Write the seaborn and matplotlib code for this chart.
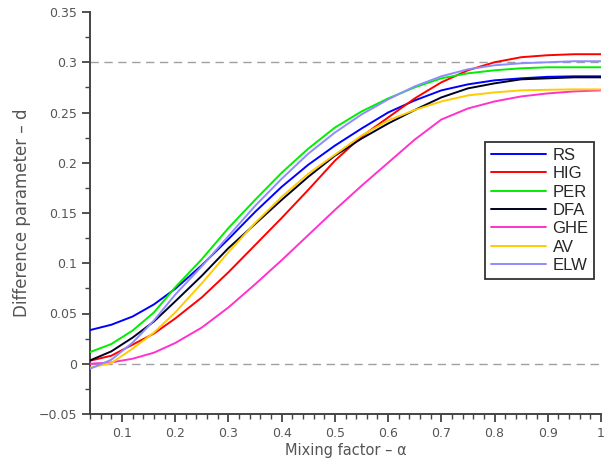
import numpy as np
import pandas as pd
import matplotlib
matplotlib.use("Agg")
import matplotlib.pyplot as plt
from matplotlib.ticker import MultipleLocator, FuncFormatter
import seaborn as sns

alpha = [0.04, 0.08, 0.12, 0.16, 0.2, 0.25, 0.3, 0.35, 0.4, 0.45, 0.5, 0.55,
         0.6, 0.65, 0.7, 0.75, 0.8, 0.85, 0.9, 0.95, 1.0]
RS  = [.0335, .0388, .047, .059, .0745, .098, .124, .151, .176, .198, .217, .234,
       .250, .262, .272, .278, .282, .284, .2855, .286, .286]
HIG = [.003, .008, .019, .030, .045, .066, .091, .118, .145, .173, .202, .226,
       .245, .264, .280, .292, .300, .305, .307, .308, .308]
PER = [.0116, .0196, .033, .051, .076, .104, .135, .163, .190, .214, .235, .251,
       .264, .275, .284, .289, .292, .294, .295, .295, .295]
DFA = [.0033, .0123, .026, .042, .062, .0875, .115, .139, .163, .186, .207, .224,
       .239, .2525, .265, .274, .279, .283, .284, .285, .285]
GHE = [0.0, .0013, .005, .011, .0206, .036, .056, .079, .103, .128, .153, .177,
       .200, .223, .243, .254, .261, .266, .269, .271, .272]
AV  = [-.004, .0007, .015, .031, .051, .080, .111, .140, .166, .189, .208, .227,
       .242, .2525, .261, .267, .270, .272, .2726, .273, .273]
ELW = [-.005, .004, .021, .043, .0687, .097, .127, .157, .184, .209, .230, .248,
       .263, .276, .286, .293, .297, .299, .300, .301, .301]

methods = ["RS", "HIG", "PER", "DFA", "GHE", "AV", "ELW"]
series = [RS, HIG, PER, DFA, GHE, AV, ELW]
colors = ["#0000ff", "#ff0000", "#00ee00", "#000022", "#ff33cc", "#ffcc00", "#8c8cff"]

df = pd.DataFrame({
    "alpha": np.tile(alpha, len(methods)),
    "d": np.concatenate(series),
    "method": np.repeat(methods, len(alpha)),
})

sns.set_style("ticks")
plt.rcParams["font.family"] = ["DejaVu Sans"]

fig = plt.figure(figsize=(6.12, 4.74), dpi=100)
ax = fig.add_axes([90/612, 1-414/474, (601-90)/612, (414-12)/474])

ax.axhline(0.3, color="#a0a0a0", lw=1.0, dashes=(6, 4), zorder=1)
ax.axhline(0.0, color="#a0a0a0", lw=1.0, dashes=(6, 4), zorder=1)

sns.lineplot(data=df, x="alpha", y="d", hue="method", hue_order=methods,
             palette=dict(zip(methods, colors)), lw=1.4, ax=ax, zorder=3)

ax.set_xlim(0.04, 1.0)
ax.set_ylim(-0.05, 0.35)
ax.xaxis.set_major_locator(MultipleLocator(0.1))
ax.xaxis.set_minor_locator(MultipleLocator(0.02))
ax.yaxis.set_major_locator(MultipleLocator(0.05))
ax.yaxis.set_minor_locator(MultipleLocator(0.025))

def fmt(v, pos):
    s = "%g" % round(v, 3)
    return s.replace("-", "\u2212")
ax.xaxis.set_major_formatter(FuncFormatter(fmt))
ax.yaxis.set_major_formatter(FuncFormatter(fmt))

for s in ["top", "right"]:
    ax.spines[s].set_visible(False)
for s in ["left", "bottom"]:
    ax.spines[s].set_color("#444444")
    ax.spines[s].set_linewidth(1.4)
ax.tick_params(which="major", direction="out", length=6, width=1.3,
               color="#444444", labelcolor="#555555", labelsize=9)
ax.tick_params(which="minor", direction="out", length=3.5, width=1.0, color="#444444")

ax.set_xlabel("Mixing factor \u2013 \u03b1", fontsize=10.5, color="#555555", labelpad=2)
ax.set_ylabel("Difference parameter \u2013 d", fontsize=12, color="#555555", labelpad=5)

leg = ax.legend(loc="upper left", bbox_to_anchor=((485-90)/511, (414-142)/402),
                borderaxespad=0, frameon=True, fancybox=False,
                prop={"family": "Liberation Sans", "size": 12},
                handlelength=3.3, handletextpad=0.4, labelspacing=0.2,
                borderpad=0.35, title=None)
leg.get_frame().set_edgecolor("black")
leg.get_frame().set_linewidth(1.3)

fig.savefig("out.png", dpi=100)
